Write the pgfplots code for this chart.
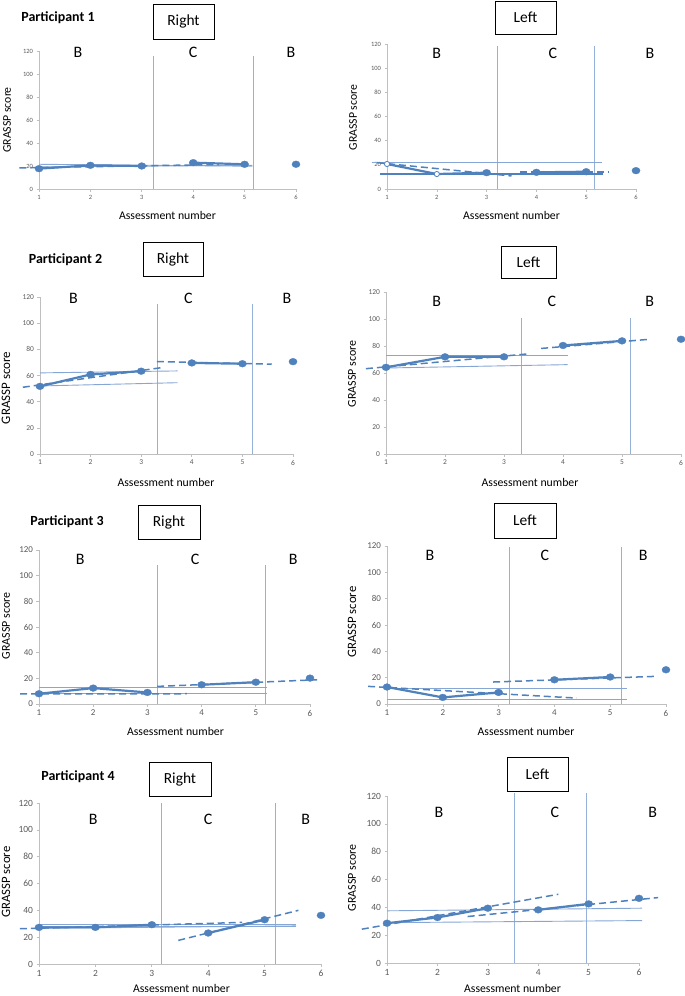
\documentclass[border=0pt]{standalone}
\usepackage{pgfplots}
\pgfplotsset{compat=1.18}
\usetikzlibrary{plotmarks}
\usepackage{fontspec}
\setmainfont{Carlito}
\definecolor{dblue}{HTML}{4F81BD}
\definecolor{tblue}{HTML}{86A6D6}
\definecolor{vblue}{HTML}{95B1DA}
\definecolor{axgray}{HTML}{BFBFBF}
\definecolor{tickgray}{HTML}{595959}
\pgfplotsset{
  panel/.style={scale only axis, anchor=south west, xmin=1, xmax=6, ymin=0, ymax=120, clip=false,
    axis x line*=bottom, axis y line*=left, axis line style={draw=axgray, line width=0.7bp, -},
    xtick={1,2,3,4,5,6}, ytick={0,20,40,60,80,100,120}, tick align=outside, major tick length=2.5bp,
    tick style={draw=axgray, line width=0.6bp},
    /pgf/number format/assume math mode=true,
    tick label style={text=tickgray, font=\fontsize{#1}{#1}\selectfont},
  },
  gdat/.style={color=dblue, line width=2.2bp, no marks},
  trend/.style={color=dblue, line width=1.5bp, dash pattern=on 7bp off 4bp, no marks},
  thin/.style={color=tblue, line width=0.9bp, no marks},
  vline/.style={color=vblue, line width=1.0bp, no marks},
}
\tikzset{
  phase/.style={font=\fontsize{16}{18}\selectfont},
  ttl/.style={font=\bfseries\fontsize{14}{16}\selectfont},
  sidebox/.style={draw, line width=0.8bp, inner sep=0pt, font=\fontsize{15.5}{18}\selectfont},
  ylab/.style={rotate=90, font=\fontsize{#1}{14}\selectfont},
  xlab/.style={font=\fontsize{11.8}{14}\selectfont},
}
\newcommand{\pts}{\addplot[color=dblue, only marks, mark=diamond*, mark size=3.4bp, mark options={solid, fill=dblue, draw=dblue, line width=0.3bp, xscale=1.2}]}
\begin{document}
\begin{tikzpicture}
\useasboundingbox (0,0) rectangle (685bp,-996bp);

% ---------- Participant 1 Right ----------
\begin{axis}[panel=6.5, at={(39bp,-189bp)}, width=257bp, height=138bp]
\addplot[vline] coordinates {(3.22,0) (3.22,115.5)};
\addplot[vline] coordinates {(5.18,0) (5.18,115.5)};
\addplot[thin] coordinates {(1,21.5) (5.15,19.8)};
\addplot[thin] coordinates {(1,19.2) (5.15,20.6)};
\addplot[trend] coordinates {(0.62,18.3) (4.5,21.3)};
\addplot[gdat] coordinates {(1,17.7) (2,20.6) (3,20)};
\addplot[gdat] coordinates {(4,22.9) (5,21.5)};
\pts coordinates {(1,17.7) (2,20.6) (3,20) (4,22.9) (5,21.5) (6,21.5)};
\node[phase] at (axis cs:1.76,118.5) {B};
\node[phase] at (axis cs:4.0,118.5) {C};
\node[phase] at (axis cs:5.9,118.5) {B};
\end{axis}

% ---------- Participant 1 Left ----------
\begin{axis}[panel=6.5, at={(387bp,-189bp)}, width=249bp, height=145bp]
\addplot[vline] coordinates {(3.21,0) (3.21,118)};
\addplot[vline] coordinates {(5.16,0) (5.16,118)};
\addplot[thin] coordinates {(0.69,22) (5.31,22)};
\addplot[color=dblue, line width=1.1bp] coordinates {(0.86,12.4) (5.34,12.4)};
\addplot[trend] coordinates {(0.8,21.8) (3.5,10.8)};
\addplot[trend] coordinates {(3.67,14.2) (5.44,14.2)};
\addplot[gdat] coordinates {(1,20.7) (2,12.4) (3,13.5)};
\addplot[gdat] coordinates {(4,13.8) (5,14.3)};
\pts coordinates {(3,13.5) (4,13.8) (5,14.3) (6,15.2)};
\addplot[only marks, mark=*, mark size=2.6bp, mark options={fill=white, draw=dblue, line width=0.8bp}] coordinates {(1,20.7) (2,12.4)};
\node[phase] at (axis cs:2.0,112) {B};
\node[phase] at (axis cs:4.33,112) {C};
\node[phase] at (axis cs:6.28,112) {B};
\end{axis}

% ---------- Participant 2 Right ----------
\begin{axis}[panel=7.5, at={(40bp,-454bp)}, width=253bp, height=157bp]
\addplot[vline] coordinates {(3.33,0) (3.33,115)};
\addplot[vline] coordinates {(5.19,0) (5.19,115)};
\addplot[thin] coordinates {(1,62) (3.72,63.5)};
\addplot[thin] coordinates {(1,52) (3.72,54.5)};
\addplot[trend] coordinates {(0.66,51) (3.4,66)};
\addplot[trend] coordinates {(3.31,70.7) (5.58,68.7)};
\addplot[gdat] coordinates {(1,51.7) (2,60.8) (3,63.3)};
\addplot[gdat] coordinates {(4,69.6) (5,69)};
\pts coordinates {(1,51.7) (2,60.8) (3,63.3) (4,69.6) (5,69) (6,70.6)};
\node[phase] at (axis cs:1.66,119) {B};
\node[phase] at (axis cs:3.93,119) {C};
\node[phase] at (axis cs:5.88,119) {B};
\end{axis}

% ---------- Participant 2 Left ----------
\begin{axis}[panel=7.5, at={(386bp,-454bp)}, width=295bp, height=162bp]
\addplot[vline] coordinates {(3.29,0) (3.29,101)};
\addplot[vline] coordinates {(5.15,0) (5.15,101)};
\addplot[thin] coordinates {(1,72.8) (4.08,72.8)};
\addplot[thin] coordinates {(1,63.7) (4.08,66.2)};
\addplot[trend] coordinates {(0.66,63.2) (3.44,74.3)};
\addplot[trend] coordinates {(3.63,78.2) (5.47,85)};
\addplot[gdat] coordinates {(1,64.2) (2,72) (3,72)};
\addplot[gdat] coordinates {(4,80.4) (5,83.8)};
\pts coordinates {(1,64.2) (2,72) (3,72) (4,80.4) (5,83.8) (6,85)};
\node[phase] at (axis cs:1.86,113) {B};
\node[phase] at (axis cs:3.81,113) {C};
\node[phase] at (axis cs:5.47,113) {B};
\end{axis}

% ---------- Participant 3 Right ----------
\begin{axis}[panel=9, at={(39bp,-704bp)}, width=271bp, height=154bp]
\addplot[vline] coordinates {(3.19,0) (3.19,108)};
\addplot[vline] coordinates {(5.17,0) (5.17,108)};
\addplot[thin] coordinates {(1,13.2) (5.2,13.2)};
\addplot[thin] coordinates {(1,8) (5.2,8)};
\addplot[trend] coordinates {(0.65,7.8) (3.73,8)};
\addplot[trend] coordinates {(3.18,13.7) (6.13,18.9)};
\addplot[gdat] coordinates {(1,8) (2,12.4) (3,9)};
\addplot[gdat] coordinates {(4,15) (5,17)};
\pts coordinates {(1,8) (2,12.4) (3,9) (4,15) (5,17) (6,20.2)};
\node[phase] at (axis cs:1.76,113) {B};
\node[phase] at (axis cs:3.88,113) {C};
\node[phase] at (axis cs:5.69,113) {B};
\end{axis}

% ---------- Participant 3 Left ----------
\begin{axis}[panel=9, at={(387bp,-704bp)}, width=279bp, height=158bp]
\addplot[vline] coordinates {(3.19,0) (3.19,119)};
\addplot[vline] coordinates {(5.21,0) (5.21,119)};
\addplot[thin] coordinates {(1,11.9) (5.3,11.9)};
\addplot[thin] coordinates {(1,3.8) (5.3,3.8)};
\addplot[trend] coordinates {(0.66,13.4) (4.4,4.5)};
\addplot[trend] coordinates {(2.9,16.7) (5.82,21)};
\addplot[gdat] coordinates {(1,12.9) (2,5) (3,8.8)};
\addplot[gdat] coordinates {(4,18.4) (5,20.5)};
\pts coordinates {(1,12.9) (2,5) (3,8.8) (4,18.4) (5,20.5) (6,26)};
\node[phase] at (axis cs:1.77,113) {B};
\node[phase] at (axis cs:3.83,113) {C};
\node[phase] at (axis cs:5.59,113) {B};
\end{axis}

% ---------- Participant 4 Right ----------
\begin{axis}[panel=9.5, at={(39bp,-964bp)}, width=282bp, height=161bp]
\addplot[vline] coordinates {(3.18,0) (3.18,120)};
\addplot[vline] coordinates {(5.2,0) (5.2,120)};
\addplot[thin] coordinates {(1,29.5) (5.56,29.5)};
\addplot[thin] coordinates {(1,27.9) (5.56,27.9)};
\addplot[thin] coordinates {(1,26.6) (5.56,28.4)};
\addplot[trend] coordinates {(0.66,26.3) (4.6,31)};
\addplot[trend] coordinates {(3.47,17.6) (5.6,40)};
\addplot[gdat] coordinates {(1,27.3) (2,27.3) (3,29.3)};
\addplot[gdat] coordinates {(4,23.1) (5,33)};
\pts coordinates {(1,27.3) (2,27.3) (3,29.3) (4,23.1) (5,33) (6,36.3)};
\node[phase] at (axis cs:1.96,108) {B};
\node[phase] at (axis cs:4.0,108) {C};
\node[phase] at (axis cs:5.73,108) {B};
\end{axis}

% ---------- Participant 4 Left ----------
\begin{axis}[panel=9.5, at={(387bp,-963bp)}, width=252bp, height=167bp]
\addplot[vline] coordinates {(3.52,0) (3.52,122)};
\addplot[vline] coordinates {(4.95,0) (4.95,122)};
\addplot[thin] coordinates {(1,37.5) (6.06,39.4)};
\addplot[thin] coordinates {(1,29) (6.06,30.5)};
\addplot[trend] coordinates {(0.5,24.3) (4.4,49.4)};
\addplot[trend] coordinates {(2.6,33.4) (6.38,47)};
\addplot[gdat] coordinates {(1,28.6) (2,32.7) (3,39.4)};
\addplot[gdat] coordinates {(4,38.2) (5,42.5)};
\pts coordinates {(1,28.6) (2,32.7) (3,39.4) (4,38.2) (5,42.5) (6,46.5)};
\node[phase] at (axis cs:2.03,108) {B};
\node[phase] at (axis cs:4.33,108) {C};
\node[phase] at (axis cs:6.27,108) {B};
\end{axis}

% ---------- titles, boxes, labels ----------
\node[ttl] at (58bp,-18bp) {Participant 1};
\node[ttl] at (65.5bp,-260bp) {Participant 2};
\node[ttl] at (67bp,-522bp) {Participant 3};
\node[ttl] at (78bp,-777bp) {Participant 4};

\node[sidebox, minimum width=61bp, minimum height=35bp] at (183.5bp,-21.5bp) {Right};
\node[sidebox, minimum width=61bp, minimum height=33bp] at (525.5bp,-17.5bp) {Left};
\node[sidebox, minimum width=60bp, minimum height=34bp] at (173bp,-259bp) {Right};
\node[sidebox, minimum width=55bp, minimum height=32bp] at (528.5bp,-262bp) {Left};
\node[sidebox, minimum width=62bp, minimum height=34bp] at (169bp,-522bp) {Right};
\node[sidebox, minimum width=62bp, minimum height=35bp] at (525bp,-520.5bp) {Left};
\node[sidebox, minimum width=62bp, minimum height=34bp] at (180bp,-779bp) {Right};
\node[sidebox, minimum width=61bp, minimum height=34bp] at (537.5bp,-774bp) {Left};

\node[ylab=11.8] at (7bp,-120bp) {GRASSP score};
\node[ylab=11.8] at (353bp,-117.5bp) {GRASSP score};
\node[ylab=13] at (6bp,-388bp) {GRASSP score};
\node[ylab=12] at (352bp,-374bp) {GRASSP score};
\node[ylab=12] at (6bp,-626bp) {GRASSP score};
\node[ylab=12.8] at (352bp,-622bp) {GRASSP score};
\node[ylab=12.8] at (6bp,-882bp) {GRASSP score};
\node[ylab=12] at (352bp,-878bp) {GRASSP score};

\node[xlab] at (167.5bp,-215bp) {Assessment number};
\node[xlab] at (511.5bp,-215bp) {Assessment number};
\node[xlab] at (166bp,-482bp) {Assessment number};
\node[xlab] at (530bp,-482bp) {Assessment number};
\node[xlab] at (175.5bp,-731bp) {Assessment number};
\node[xlab] at (526bp,-731bp) {Assessment number};
\node[xlab] at (181.5bp,-988.5bp) {Assessment number};
\node[xlab] at (512.5bp,-988.5bp) {Assessment number};
\end{tikzpicture}
\end{document}
